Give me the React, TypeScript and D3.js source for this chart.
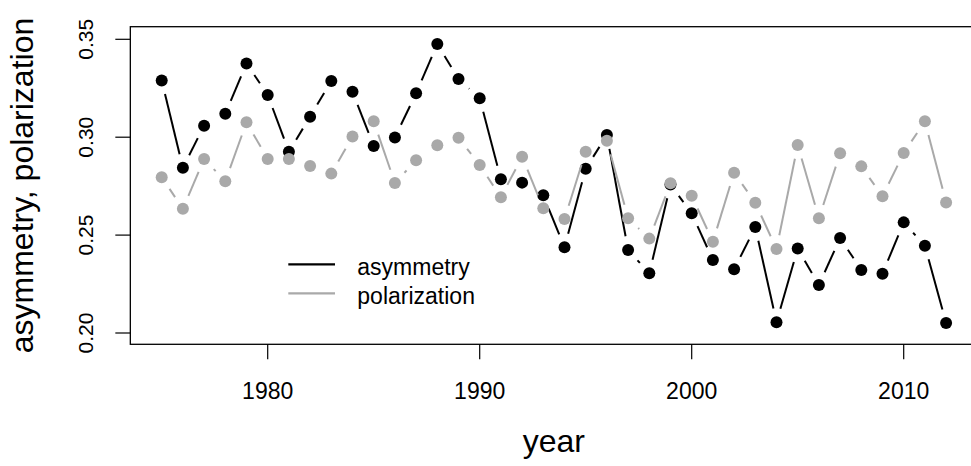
import { useEffect, useRef } from 'react';
import * as d3 from 'd3';

// years 1975..2012
const years = [
  1975, 1976, 1977, 1978, 1979, 1980, 1981, 1982, 1983, 1984, 1985, 1986, 1987,
  1988, 1989, 1990, 1991, 1992, 1993, 1994, 1995, 1996, 1997, 1998, 1999, 2000,
  2001, 2002, 2003, 2004, 2005, 2006, 2007, 2008, 2009, 2010, 2011, 2012,
];

const asymmetry = [
  0.329, 0.2844, 0.3059, 0.312, 0.3377, 0.3216, 0.2926, 0.3105, 0.3287, 0.3232,
  0.2955, 0.2999, 0.3224, 0.3476, 0.3297, 0.3199, 0.2785, 0.2768, 0.2703,
  0.2438, 0.2839, 0.3011, 0.2424, 0.2305, 0.2758, 0.2611, 0.2373, 0.2325,
  0.2541, 0.2055, 0.2431, 0.2245, 0.2485, 0.2322, 0.2303, 0.2565, 0.2446,
  0.2051,
];

const polarization = [
  0.2795, 0.2635, 0.2889, 0.2775, 0.3076, 0.2889, 0.2889, 0.2853, 0.2814,
  0.3003, 0.3081, 0.2766, 0.2882, 0.2959, 0.2997, 0.2858, 0.2693, 0.29, 0.2637,
  0.2582, 0.2926, 0.2982, 0.2586, 0.2482, 0.2765, 0.2701, 0.2466, 0.2819,
  0.2665, 0.2429, 0.296, 0.2586, 0.2918, 0.2851, 0.2698, 0.2919, 0.3081,
  0.2667,
];

const xTicks = [1980, 1990, 2000, 2010];
const yTicks = [0.2, 0.25, 0.3, 0.35];

const seriesNames = ['asymmetry', 'polarization'];
const seriesColors = ['#000000', '#a9a9a9'];

const FONT = '"Liberation Sans", Arial, Helvetica, sans-serif';

export default function App() {
  const svgRef = useRef<SVGSVGElement>(null);

  useEffect(() => {
    if (!svgRef.current) return;
    const svg = d3.select(svgRef.current);
    svg.selectAll('*').remove();

    const width = 971;
    const height = 466;

    const x = d3.scaleLinear().domain([1975, 2012]).range([161.7, 946.1]);
    const y = d3.scaleLinear().domain([0.2, 0.35]).range([333, 39.3]);

    // R style 4% padding on x
    const pad = (2012 - 1975) * 0.04;
    const boxLeft = x(1975 - pad);
    const boxRight = x(2012 + pad);
    const boxTop = 26.7;
    const boxBottom = 344.3;
    const tickLen = 15;

    svg.attr('width', width).attr('height', height);

    // plot frame
    svg
      .append('rect')
      .attr('x', boxLeft)
      .attr('y', boxTop)
      .attr('width', boxRight - boxLeft)
      .attr('height', boxBottom - boxTop)
      .attr('fill', 'none')
      .attr('stroke', '#000')
      .attr('stroke-width', 1.3);

    // x axis
    const xg = svg.append('g');
    xg.selectAll('line')
      .data(xTicks)
      .enter()
      .append('line')
      .attr('x1', (d) => x(d))
      .attr('x2', (d) => x(d))
      .attr('y1', boxBottom)
      .attr('y2', boxBottom + tickLen)
      .attr('stroke', '#000')
      .attr('stroke-width', 1.2);
    xg.selectAll('text')
      .data(xTicks)
      .enter()
      .append('text')
      .attr('x', (d) => x(d))
      .attr('y', 398.5)
      .attr('text-anchor', 'middle')
      .attr('font-family', FONT)
      .attr('font-size', 23)
      .text((d) => String(d));

    // y axis
    const yg = svg.append('g');
    yg.selectAll('line')
      .data(yTicks)
      .enter()
      .append('line')
      .attr('x1', boxLeft - tickLen)
      .attr('x2', boxLeft)
      .attr('y1', (d) => y(d))
      .attr('y2', (d) => y(d))
      .attr('stroke', '#000')
      .attr('stroke-width', 1.2);
    yg.selectAll('text')
      .data(yTicks)
      .enter()
      .append('text')
      .attr('transform', (d) => `translate(93,${y(d)}) rotate(-90)`)
      .attr('text-anchor', 'middle')
      .attr('font-family', FONT)
      .attr('font-size', 21)
      .text((d) => d.toFixed(2));

    // axis titles
    svg
      .append('text')
      .attr('x', (boxLeft + boxRight) / 2)
      .attr('y', 451.5)
      .attr('text-anchor', 'middle')
      .attr('font-family', FONT)
      .attr('font-size', 32)
      .text('year');

    svg
      .append('text')
      .attr('transform', `translate(33,${(boxTop + boxBottom) / 2}) rotate(-90)`)
      .attr('text-anchor', 'middle')
      .attr('font-family', FONT)
      .attr('font-size', 32)
      .text('asymmetry, polarization');

    // type = "b": segments with a gap around each point
    const gap = 14;
    const drawSeries = (values: number[], color: string) => {
      const pts = years.map((yr, i) => [x(yr), y(values[i])] as [number, number]);
      const segs: [number, number, number, number][] = [];
      for (let i = 0; i < pts.length - 1; i++) {
        const [x0, y0] = pts[i];
        const [x1, y1] = pts[i + 1];
        const dx = x1 - x0;
        const dy = y1 - y0;
        const len = Math.sqrt(dx * dx + dy * dy);
        if (len <= 2 * gap) continue;
        const ux = dx / len;
        const uy = dy / len;
        segs.push([x0 + ux * gap, y0 + uy * gap, x1 - ux * gap, y1 - uy * gap]);
      }
      const g = svg.append('g');
      g.selectAll('line')
        .data(segs)
        .enter()
        .append('line')
        .attr('x1', (d) => d[0])
        .attr('y1', (d) => d[1])
        .attr('x2', (d) => d[2])
        .attr('y2', (d) => d[3])
        .attr('stroke', color)
        .attr('stroke-width', 2);
      g.selectAll('circle')
        .data(pts)
        .enter()
        .append('circle')
        .attr('cx', (d) => d[0])
        .attr('cy', (d) => d[1])
        .attr('r', 6)
        .attr('fill', color);
    };

    drawSeries(asymmetry, seriesColors[0]);
    drawSeries(polarization, seriesColors[1]);

    // legend
    const legend = svg.append('g');
    const legendY = [264.3, 293.3];
    seriesNames.forEach((name, i) => {
      legend
        .append('line')
        .attr('x1', 288.3)
        .attr('x2', 335)
        .attr('y1', legendY[i])
        .attr('y2', legendY[i])
        .attr('stroke', seriesColors[i])
        .attr('stroke-width', 2.2);
      legend
        .append('text')
        .attr('x', 357.3)
        .attr('y', legendY[i] + 10.3)
        .attr('font-family', FONT)
        .attr('font-size', 23)
        .text(name);
    });
  }, []);

  return (
    <svg
      ref={svgRef}
      style={{ position: 'absolute', left: 0, top: 0, background: '#fff' }}
    />
  );
}
